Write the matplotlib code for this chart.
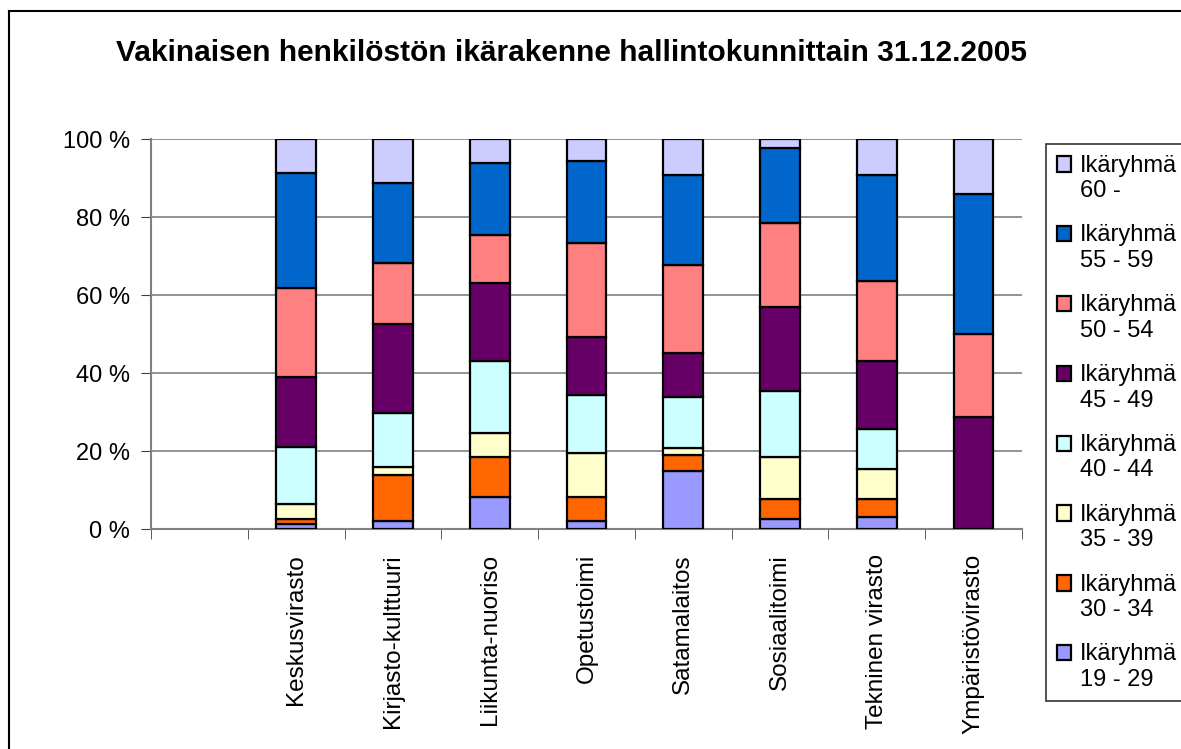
import matplotlib.pyplot as plt
import matplotlib.patches as mpatches
from matplotlib.legend_handler import HandlerPatch
import numpy as np

plt.rcParams['font.family'] = ['Liberation Sans', 'DejaVu Sans']

# first slot of the category axis is left empty in the original chart
categories = ['', 'Keskusvirasto', 'Kirjasto-kulttuuri', 'Liikunta-nuoriso', 'Opetustoimi',
              'Satamalaitos', 'Sosiaalitoimi', 'Tekninen virasto', 'Ympäristövirasto']

groups = ['Ikäryhmä\n19 - 29', 'Ikäryhmä\n30 - 34', 'Ikäryhmä\n35 - 39', 'Ikäryhmä\n40 - 44',
          'Ikäryhmä\n45 - 49', 'Ikäryhmä\n50 - 54', 'Ikäryhmä\n55 - 59', 'Ikäryhmä\n60 -']

# percent shares per group for the eight named categories
g19_29 = [1.2, 2.1, 8.3, 2.1, 14.9, 2.5, 3.0, 0]
g30_34 = [1.3, 11.7, 10.2, 6.2, 4.1, 5.1, 4.6, 0]
g35_39 = [3.8, 2.2, 6.2, 11.3, 1.7, 10.9, 7.8, 0]
g40_44 = [14.8, 13.8, 18.5, 14.8, 13.2, 17.0, 10.3, 0]
g45_49 = [18.0, 22.7, 20.0, 14.9, 11.3, 21.5, 17.4, 28.8]
g50_54 = [22.6, 15.8, 12.2, 24.1, 22.5, 21.5, 20.6, 21.1]
g55_59 = [29.7, 20.5, 18.5, 21.0, 23.1, 19.2, 27.1, 35.9]
g60 = [8.6, 11.2, 6.1, 5.6, 9.2, 2.3, 9.2, 14.2]

series = [g19_29, g30_34, g35_39, g40_44, g45_49, g50_54, g55_59, g60]
colors = ['#9999FF', '#FF6600', '#FFFFCC', '#CCFFFF', '#660066', '#FF8080', '#0066CC', '#CCCCFF']

fig = plt.figure(figsize=(11.81, 7.49), dpi=100)
ax = fig.add_axes([151/1181, 1-529/749, (1022-151)/1181, (529-139)/749])

x = np.arange(1, len(categories))
bottom = np.zeros(len(x))
handles = []
for vals, col, lab in zip(series, colors, groups):
    vals = np.array(vals, dtype=float)
    b = ax.bar(x, vals, 0.41, bottom=bottom, color=col, edgecolor='black', linewidth=1.6,
               label=lab, zorder=3)
    handles.append(b)
    bottom += vals

ax.set_xlim(-0.5, len(categories) - 0.5)
ax.set_ylim(0, 100)
ax.set_yticks(np.arange(0, 101, 20))
ax.set_yticklabels([f'{v} %' for v in range(0, 101, 20)], fontsize=17)
ax.yaxis.grid(True, color='#808080', linewidth=1.2, zorder=0)

ax.set_xticks(np.arange(len(categories)))
ax.set_xticklabels(categories, rotation=90, fontsize=17.5)
ax.set_xticks(np.arange(-0.5, len(categories), 1), minor=True)
ax.tick_params(axis='x', which='major', length=0, pad=18)
ax.tick_params(axis='x', which='minor', length=7, color='#404040', direction='out')
ax.tick_params(axis='y', length=7, color='#404040', pad=8)

for s in ['top', 'right']:
    ax.spines[s].set_visible(False)
for s in ['left', 'bottom']:
    ax.spines[s].set_color('#808080')
    ax.spines[s].set_linewidth(1.5)


def square_top(legend, orig_handle, xdescent, ydescent, width, height, fontsize):
    return mpatches.Rectangle((-xdescent, -ydescent + 0.62 * fontsize), width, height,
                              facecolor=orig_handle.get_facecolor(), edgecolor='black', linewidth=1.5)


leg_handles = [h.patches[0] for h in handles][::-1]
leg = fig.legend(leg_handles, groups[::-1], loc='upper left',
                 bbox_to_anchor=(1046/1181, 1-144/749), fontsize=17,
                 handlelength=0.62, handleheight=0.62, handletextpad=0.35,
                 labelspacing=0.95, borderpad=0.45, borderaxespad=0, fancybox=False,
                 edgecolor='black',
                 handler_map={mpatches.Rectangle: HandlerPatch(patch_func=square_top)})
leg.get_frame().set_linewidth(1.2)
for t in leg.get_texts():
    t.set_linespacing(1.2)

fig.text(571/1181, 1-53/749, 'Vakinaisen henkilöstön ikärakenne hallintokunnittain 31.12.2005',
         ha='center', va='center', fontsize=21.5, fontweight='bold')

# outer chart frame
fig.add_artist(plt.Line2D([9/1181, 9/1181], [0, 1-11/749], color='black', linewidth=1.5,
                          transform=fig.transFigure))
fig.add_artist(plt.Line2D([9/1181, 1], [1-11/749, 1-11/749], color='black', linewidth=1.5,
                          transform=fig.transFigure))

fig.savefig('out.png', dpi=100)
